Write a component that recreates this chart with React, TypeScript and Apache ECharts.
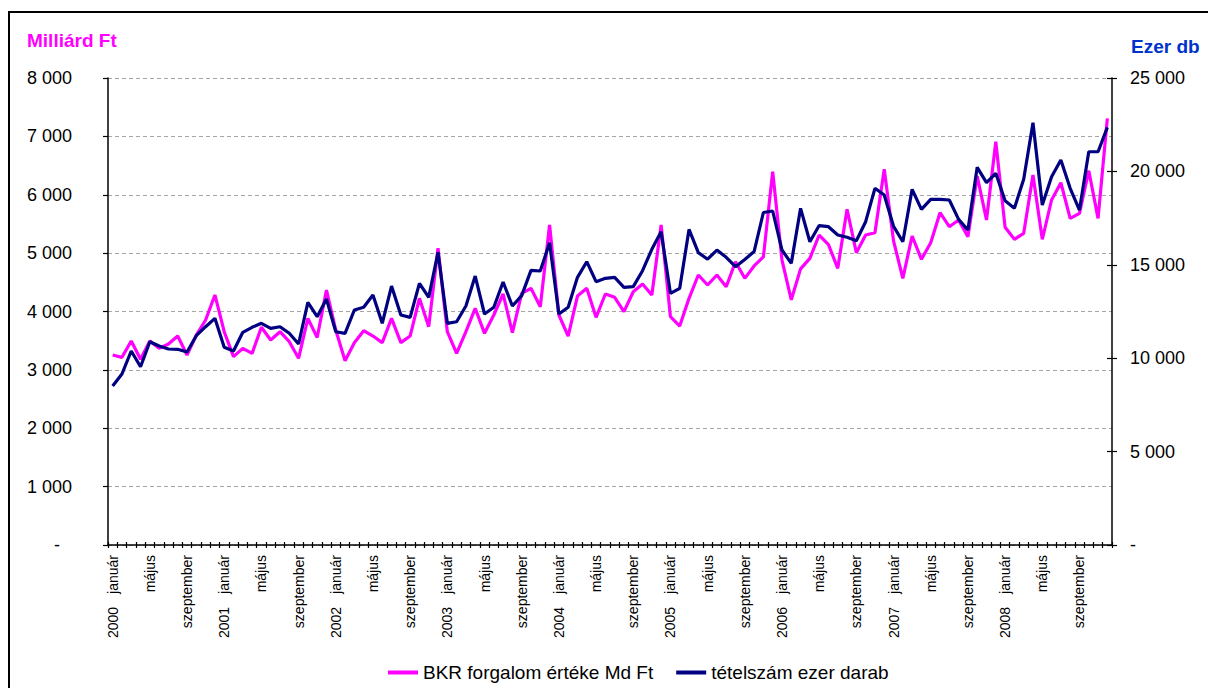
import React, { useEffect, useRef } from "react";
import * as echarts from "echarts";

const years = [2000, 2001, 2002, 2003, 2004, 2005, 2006, 2007, 2008];
const monthNames = [
  "január", "február", "március", "április", "május", "június",
  "július", "augusztus", "szeptember", "október", "november", "december",
];

// BKR forgalom értéke, Md Ft (left axis)
const bkrValue = [
  3255, 3215, 3495, 3181, 3495, 3369, 3443, 3580, 3255, 3597, 3854, 4283,
  3654, 3226, 3369, 3283, 3729, 3512, 3654, 3483, 3198, 3883, 3555, 4368,
  3683, 3157, 3466, 3671, 3580, 3466, 3883, 3466, 3580, 4226, 3740, 5083,
  3654, 3283, 3654, 4055, 3626, 3940, 4300, 3637, 4312, 4397, 4082, 5482,
  3940, 3580, 4265, 4397, 3900, 4300, 4243, 3997, 4339, 4471, 4283, 5482,
  3911, 3751, 4226, 4625, 4454, 4625, 4425, 4853, 4568, 4780, 4935, 6395,
  4882, 4200, 4730, 4911, 5310, 5145, 4740, 5751, 5008, 5310, 5350, 6436,
  5210, 4568, 5293, 4894, 5179, 5693, 5453, 5567, 5282, 6321, 5567, 6909,
  5442, 5237, 5339, 6338, 5237, 5910, 6206, 5596, 5682, 6412, 5596, 7309,
];

// tételszám, ezer darab (right axis)
const itemCount = [
  8511, 9154, 10385, 9545, 10883, 10652, 10492, 10475, 10331, 11204, 11686, 12135,
  10583, 10385, 11386, 11654, 11868, 11600, 11686, 11333, 10760, 12992, 12221, 13168,
  11418, 11333, 12580, 12724, 13383, 11868, 13864, 12312, 12188, 14009, 13259, 15668,
  11868, 11953, 12794, 14400, 12366, 12724, 14078, 12794, 13350, 14700, 14667, 16183,
  12366, 12724, 14329, 15166, 14096, 14275, 14329, 13793, 13829, 14685, 15827, 16771,
  13472, 13739, 16896, 15649, 15300, 15791, 15400, 14899, 15280, 15710, 17800, 17880,
  15791, 15080, 18024, 16236, 17100, 17040, 16594, 16471, 16290, 17308, 19094, 18736,
  17060, 16236, 19040, 17968, 18504, 18504, 18468, 17434, 16862, 20218, 19396, 19897,
  18432, 18024, 19576, 22606, 18200, 19715, 20609, 19094, 17932, 21053, 21053, 22360,
];

const seriesNames = ["BKR forgalom értéke Md Ft", "tételszám ezer darab"];
const leftTitle = "Milliárd Ft";
const rightTitle = "Ezer db";

const categories: string[] = [];
years.forEach((y) => monthNames.forEach((m) => categories.push(`${y}|${m}`)));

const FONT = "'Liberation Sans', Arial, sans-serif";

function fmtNum(v: number): string {
  if (v === 0) return "-";
  const th = Math.floor(v / 1000);
  const rest = v % 1000;
  return th > 0 ? `${th} ${String(rest).padStart(3, "0")}` : String(rest);
}

export default function App() {
  const ref = useRef<HTMLDivElement>(null);
  useEffect(() => {
    if (!ref.current) return;
    const chart = echarts.init(ref.current, null, { renderer: "svg" });
    const gridTop = 78;
    const gridBottom = 143;
    const option: any = {
      animation: false,
      backgroundColor: "#ffffff",
      textStyle: { fontFamily: FONT },
      grid: {
        left: 108,
        right: 96,
        top: gridTop,
        bottom: gridBottom,
        outerBoundsMode: "none",
        containLabel: false,
      },
      legend: {
        left: 383,
        top: 658,
        itemWidth: 30,
        itemHeight: 4,
        itemGap: 23,
        icon: "rect",
        textStyle: { fontFamily: FONT, fontSize: 19, color: "#000" },
        data: seriesNames,
      },
      xAxis: [
        {
          type: "category",
          data: categories,
          boundaryGap: true,
          position: "bottom",
          axisLine: { show: true, lineStyle: { color: "#000", width: 1.5 } },
          axisTick: { show: true, interval: 0, length: 3, lineStyle: { color: "#000", width: 1.2 } },
          axisLabel: {
            interval: 3,
            rotate: 90,
            margin: 10,
            fontFamily: FONT,
            fontSize: 14,
            color: "#000",
            formatter: (value: string) => {
              const [y, m] = value.split("|");
              if (m === "január") return `{y|${y}}{m|${m}}`;
              return m;
            },
            rich: {
              y: { fontFamily: FONT, fontSize: 14, color: "#000", padding: [0, 13, 0, 0] },
              m: { fontFamily: FONT, fontSize: 14, color: "#000" },
            },
          },
          splitLine: { show: false },
        },
        {
          type: "category",
          data: categories,
          boundaryGap: true,
          position: "bottom",
          axisLine: { show: false },
          axisTick: { show: true, inside: true, interval: 0, length: 3, lineStyle: { color: "#000", width: 1.2 } },
          axisLabel: { show: false },
          splitLine: { show: false },
        },
      ],
      yAxis: [
        {
          type: "value",
          position: "left",
          min: 0,
          max: 8000,
          interval: 1000,
          axisLine: { show: true, lineStyle: { color: "#000", width: 1.5 } },
          axisTick: { show: true, length: 5, lineStyle: { color: "#000", width: 1.2 } },
          axisLabel: {
            margin: 36,
            fontFamily: FONT,
            fontSize: 18,
            color: "#000",
            formatter: (v: number) => (v === 0 ? "{d|-}" : fmtNum(v)),
            rich: { d: { fontFamily: FONT, fontSize: 18, color: "#000", padding: [0, 12, 0, 0] } },
          },
          splitLine: { show: true, lineStyle: { color: "#a6a6a6", type: [4, 3], width: 1.2 } },
        },
        {
          type: "value",
          position: "right",
          min: 0,
          max: 25000,
          interval: 5000,
          axisLine: { show: true, lineStyle: { color: "#000", width: 1.5 } },
          axisTick: { show: true, length: 5, lineStyle: { color: "#000", width: 1.2 } },
          axisLabel: {
            margin: 18,
            fontFamily: FONT,
            fontSize: 18,
            color: "#000",
            formatter: (v: number) => fmtNum(v),
          },
          splitLine: { show: false },
        },
        {
          type: "value",
          position: "right",
          min: 0,
          max: 25000,
          interval: 5000,
          axisLine: { show: false },
          axisTick: { show: true, inside: true, length: 5, lineStyle: { color: "#000", width: 1.2 } },
          axisLabel: { show: false },
          splitLine: { show: false },
        },
      ],
      series: [
        {
          name: seriesNames[0],
          type: "line",
          xAxisIndex: 0,
          yAxisIndex: 0,
          data: bkrValue,
          showSymbol: false,
          symbol: "none",
          lineStyle: { color: "#ff00ff", width: 3.2 },
          itemStyle: { color: "#ff00ff" },
          z: 2,
        },
        {
          name: seriesNames[1],
          type: "line",
          xAxisIndex: 0,
          yAxisIndex: 1,
          data: itemCount,
          showSymbol: false,
          symbol: "none",
          lineStyle: { color: "#000080", width: 3.2 },
          itemStyle: { color: "#000080" },
          z: 3,
        },
      ],
      graphic: [
        {
          type: "rect",
          silent: true,
          z: 100,
          shape: { x: 9, y: 12, width: 1230, height: 700 },
          style: { fill: "none", stroke: "#000", lineWidth: 2 },
        },
        {
          type: "text",
          x: 27,
          y: 40,
          style: {
            text: leftTitle,
            fill: "#ff00ff",
            font: `bold 19px ${FONT}`,
            textVerticalAlign: "middle",
          },
        },
        {
          type: "text",
          x: 1131,
          y: 46,
          style: {
            text: rightTitle,
            fill: "#0033cc",
            font: `bold 19px ${FONT}`,
            textVerticalAlign: "middle",
          },
        },
      ],
    };
    chart.setOption(option);
    return () => chart.dispose();
  }, []);
  return (
    <div
      ref={ref}
      style={{ position: "absolute", left: 0, top: 0, width: 1208, height: 688, background: "#fff" }}
    />
  );
}
